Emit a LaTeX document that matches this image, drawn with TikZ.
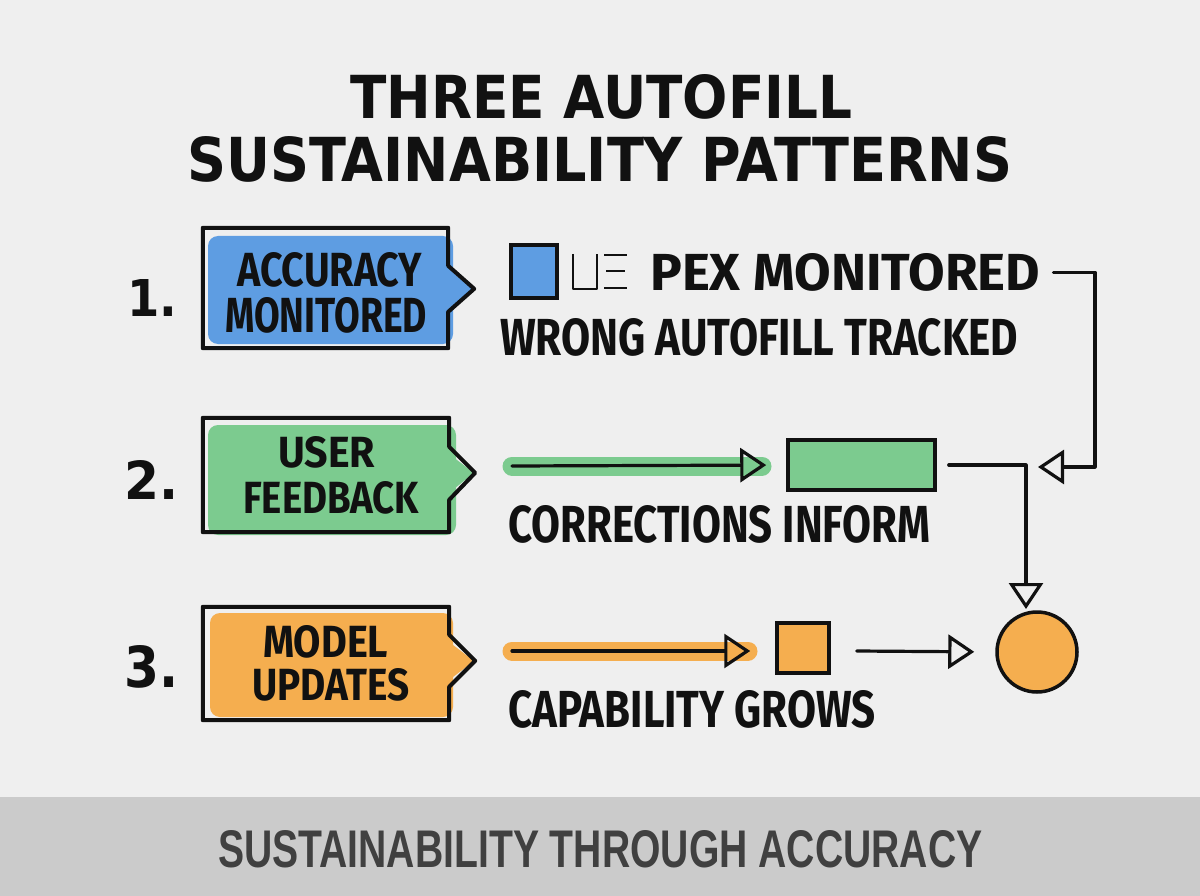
\documentclass[tikz,border=0pt]{standalone}
\usepackage{graphicx}
\usepackage{fontspec}
\setmainfont{Fira Sans}
\newfontfamily\titlefont{DejaVu Sans}
\newfontfamily\footfont{Liberation Sans}
\usetikzlibrary{arrows.meta,calc}
\definecolor{bg}{HTML}{EFEFEF}
\definecolor{foot}{HTML}{CBCBCB}
\definecolor{ink}{HTML}{111111}
\definecolor{footink}{HTML}{404040}
\definecolor{bluef}{HTML}{5E9DE2}
\definecolor{greenf}{HTML}{7CCB8F}
\definecolor{orangef}{HTML}{F5AE4F}
\newcommand\fitbox[3]{\resizebox{#1pt}{#2pt}{#3}}
\begin{document}
\begin{tikzpicture}[x=1pt,y=-1pt,
  txt/.style={inner sep=0pt, anchor=north west, text=ink, font=\bfseries},
  ttl/.style={inner sep=0pt, anchor=north west, text=ink, font=\titlefont\bfseries},
  outl/.style={draw=ink, line width=4pt, line join=round},
  conn/.style={draw=ink, line width=3.2pt, line join=round, line cap=round},
  head/.style={-{Triangle[open, length=26pt, width=34pt, line width=3.2pt]}},
  band/.style={line width=19pt, line cap=round},
  shp/.style={draw=ink, line width=3.5pt, inner sep=0pt}]
\useasboundingbox (0,0) rectangle (1200,896);
\fill[bg] (0,0) rectangle (1200,896);
\fill[foot] (0,797) rectangle (1200,896);

% title
\node[ttl] (t1) at (350,74) {\fitbox{502}{44}{THREE AUTOFILL}};
\node[ttl] (t2) at (187,136) {\fitbox{825}{45}{SUSTAINABILITY PATTERNS}};

% numbers
\node[ttl] (n1) at (127,279) {\fitbox{50}{37}{1.}};
\node[ttl] (n2) at (124,460) {\fitbox{54}{39}{2.}};
\node[ttl] (n3) at (124,645) {\fitbox{54}{42}{3.}};

% callout 1 (blue)
\fill[bluef, rounded corners=10pt] (208,236) rectangle (453,344);
\fill[bluef] (440,262) -- (473,289) -- (440,316) -- cycle;
\node[inner sep=0pt, minimum width=245pt, minimum height=120pt] (b1) at (325.5,288) {};
\draw[outl] (b1.north west) -- (b1.north east) -- ++(0,38) -- ++(26,23) -- ++(-26,23) -- (b1.south east) -- (b1.south west) -- cycle;
\node[txt] (b1a) at (237,252) {\fitbox{185}{34}{ACCURACY}};
\node[txt] (b1b) at (225,297) {\fitbox{202}{35}{MONITORED}};

% callout 2 (green)
\fill[greenf, rounded corners=10pt] (208,425) rectangle (456,535);
\fill[greenf] (440,447) -- (474,473) -- (440,500) -- cycle;
\node[inner sep=0pt, minimum width=246pt, minimum height=114pt] (b2) at (326,475) {};
\draw[outl] (b2.north west) -- (b2.north east) -- ++(0,29) -- ++(26,26) -- ++(-26,27) -- (b2.south east) -- (b2.south west) -- cycle;
\node[txt] (b2a) at (278,436) {\fitbox{97}{31}{USER}};
\node[txt] (b2b) at (243,481) {\fitbox{176}{32}{FEEDBACK}};

% callout 3 (orange)
\fill[orangef, rounded corners=10pt] (210,613) rectangle (453,717);
\fill[orangef] (440,635) -- (474,661) -- (440,687) -- cycle;
\node[inner sep=0pt, minimum width=246pt, minimum height=113pt] (b3) at (326,663.5) {};
\draw[outl] (b3.north west) -- (b3.north east) -- ++(0,28) -- ++(26,26) -- ++(-26,26) -- (b3.south east) -- (b3.south west) -- cycle;
\node[txt] (b3a) at (263,625) {\fitbox{125}{32}{MODEL}};
\node[txt] (b3b) at (252,668) {\fitbox{157}{32}{UPDATES}};

% row 1
\node[shp, fill=bluef, minimum width=46pt, minimum height=53pt] (s1) at (534,271.5) {};
\draw[ink, line width=2pt, line join=round] (573,254) -- (573,289) -- (597,289) -- (597,254);
\draw[ink, line width=2pt] (604,255) -- (627,255) (606,271) -- (625,271) (604,288) -- (627,288);
\node[txt] (r1) at (650,253) {\fitbox{390}{37}{PEX MONITORED}};
\node[txt] (r1b) at (500,318) {\fitbox{518}{37}{WRONG AUTOFILL TRACKED}};

% row 2
\coordinate (a2) at (512,466);
\draw[greenf, band] (a2) -- (762,466);
\node[shp, fill=greenf, minimum width=147pt, minimum height=50pt] (g2) at (861.5,465) {};
\draw[conn, head, shorten >=20pt] (a2) -- (g2.west);
\node[txt] (r2) at (508,505) {\fitbox{422}{37}{CORRECTIONS INFORM}};

% row 3
\coordinate (a3) at (512,651);
\draw[orangef, band] (a3) -- (748,651);
\node[shp, fill=orangef, minimum width=52pt, minimum height=50pt] (s3) at (803,648) {};
\draw[conn, head, shorten >=25pt] (a3) -- (s3.west |- a3);
\node[shp, fill=orangef, circle, minimum size=80pt] (c3) at (1037,652) {};
\draw[conn, head, shorten >=21pt] ($(s3.east)+(26,3)$) -- (c3.west);
\node[txt] (r3) at (508,690) {\fitbox{367}{37}{CAPABILITY GROWS}};

% connectors on the right
\coordinate (e1) at (1038,467);
\draw[conn, head] ($(r1.east)+(13,0)$) -| (1095,467) -- (e1);
\draw[conn, head, shorten >=3pt] ($(g2.east)+(12,0)$) -- (1026,465) -- (1026,612);

% footer
\node[inner sep=0pt, anchor=north west, text=footink, font=\footfont\bfseries] (f) at (218,830) {\fitbox{764}{37}{SUSTAINABILITY THROUGH ACCURACY}};
\end{tikzpicture}
\end{document}
